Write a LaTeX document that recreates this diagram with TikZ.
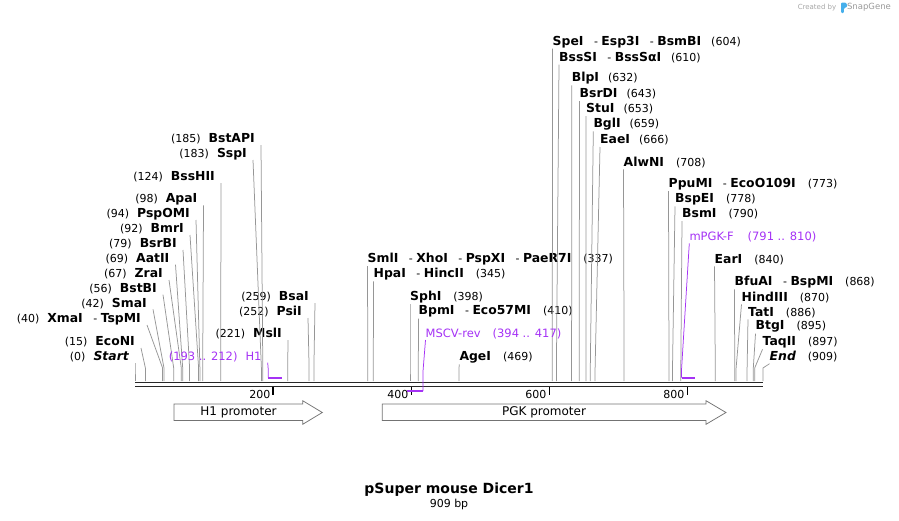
\documentclass[tikz,border=0pt]{standalone}
\usepackage{fontspec}
\setmainfont{DejaVu Sans}
\definecolor{primer}{RGB}{165,50,245}
\definecolor{cutgrey}{RGB}{150,150,150}
\definecolor{dnablack}{RGB}{40,40,40}
\definecolor{snapblue}{RGB}{70,175,235}
\newcommand\enz[1]{{\fontsize{12.4}{13}\selectfont\bfseries #1}}

\begin{document}
\begin{tikzpicture}[x=1pt,y=-1pt,
		lbl/.style={inner sep=0pt,font=\fontsize{11}{13}\selectfont},
		feat/.style={inner sep=0pt,font=\fontsize{12}{14}\selectfont},
		oligo/.style={inner sep=0pt,font=\fontsize{11.5}{14}\selectfont,text=primer},
		cut/.style={draw=cutgrey,line width=0.75pt},
		bind/.style={draw=primer,line width=0.75pt},
		bar/.style={draw=primer,line width=2pt},
		strand/.style={draw=dnablack,line width=1.8pt},
		tick/.style={draw=black,line width=1.5pt},
		promoter/.style={draw=black!55,fill=white,line width=0.75pt}]
		\useasboundingbox (0,0) rectangle (899,520);
		% logo
		\node[inner sep=0pt,font=\fontsize{7}{8}\selectfont,text=black!35] (made) at (817,7.5) {Created by};
		\node[inner sep=0pt,font=\fontsize{8.5}{9}\selectfont,text=black!40] (brand) at (869,7.5) {SnapGene};
		\fill[snapblue,rounded corners=1pt] (841,2.5) -- (846,2.5) -- (847.5,6.5) -- (843.8,8.5) -- (843.8,13) -- (841,13) -- cycle;
		% backbone
		\draw[strand] (135,382.4) -- (763,382.4);
		\draw[strand] (135,386.4) -- (763,386.4);
		\draw[tick] (273.2,387) -- (273.2,394.5);
		\draw[tick] (411.3,387) -- (411.3,394.5);
		\draw[tick] (549.5,387) -- (549.5,394.5);
		\draw[tick] (687.7,387) -- (687.7,394.5);
		\node[lbl,anchor=east] (t200) at (270.5,394.5) {200};
		\node[lbl,anchor=east] (t400) at (408.5,394.5) {400};
		\node[lbl,anchor=east] (t600) at (546.5,394.5) {600};
		\node[lbl,anchor=east] (t800) at (684.5,394.5) {800};
		% sites left of the label
		\node[lbl,anchor=east] (start) at (129,357) {(0)\hspace{8pt}\enz{\itshape Start}};
		\node[lbl,anchor=east] (econi) at (135,342) {(15)\hspace{8pt}\enz{EcoNI}};
		\node[lbl,anchor=east] (xmai) at (141,319) {(40)\hspace{8pt}\enz{XmaI}~~ - \enz{TspMI}};
		\node[lbl,anchor=east] (smai) at (147,303.3) {(42)\hspace{8pt}\enz{SmaI}};
		\node[lbl,anchor=east] (bstbi) at (157,288.7) {(56)\hspace{8pt}\enz{BstBI}};
		\node[lbl,anchor=east] (zrai) at (163,274) {(67)\hspace{8pt}\enz{ZraI}};
		\node[lbl,anchor=east] (aatii) at (169.5,258.7) {(69)\hspace{8pt}\enz{AatII}};
		\node[lbl,anchor=east] (bsrbi) at (177,244) {(79)\hspace{8pt}\enz{BsrBI}};
		\node[lbl,anchor=east] (bmri) at (184,229) {(92)\hspace{8pt}\enz{BmrI}};
		\node[lbl,anchor=east] (pspomi) at (190,214) {(94)\hspace{8pt}\enz{PspOMI}};
		\node[lbl,anchor=east] (apai) at (197.5,199.3) {(98)\hspace{8pt}\enz{ApaI}};
		\node[lbl,anchor=east] (bsshii) at (215,177) {(124)\hspace{8pt}\enz{BssHII}};
		\node[lbl,anchor=east] (sspi) at (247,154) {(183)\hspace{8pt}\enz{SspI}};
		\node[lbl,anchor=east] (bstapi) at (255,139) {(185)\hspace{8pt}\enz{BstAPI}};
		\node[lbl,anchor=east] (msli) at (282,334) {(221)\hspace{8pt}\enz{MslI}};
		\node[lbl,anchor=east] (psii) at (302,312) {(252)\hspace{8pt}\enz{PsiI}};
		\node[lbl,anchor=east] (bsai) at (309,297) {(259)\hspace{8pt}\enz{BsaI}};
		\draw[cut] ([shift={(6,6)}]start.east) -- (135,368) -- (135,381);
		\draw[cut] ([shift={(6,6)}]econi.east) -- (145.4,368) -- (145.4,381);
		\draw[cut] ([shift={(6,6)}]xmai.east) -- (162.6,368) -- (162.6,381);
		\draw[cut] ([shift={(6,6)}]smai.east) -- (164,368) -- (164,381);
		\draw[cut] ([shift={(6,6)}]bstbi.east) -- (173.7,368) -- (173.7,381);
		\draw[cut] ([shift={(6,6)}]zrai.east) -- (181.3,368) -- (181.3,381);
		\draw[cut] ([shift={(6,6)}]aatii.east) -- (182.7,368) -- (182.7,381);
		\draw[cut] ([shift={(6,6)}]bsrbi.east) -- (189.6,368) -- (189.6,381);
		\draw[cut] ([shift={(6,6)}]bmri.east) -- (198.6,368) -- (198.6,381);
		\draw[cut] ([shift={(6,6)}]pspomi.east) -- (199.9,368) -- (199.9,381);
		\draw[cut] ([shift={(6,6)}]apai.east) -- (202.7,368) -- (202.7,381);
		\draw[cut] ([shift={(6,6)}]bsshii.east) -- (220.7,368) -- (220.7,381);
		\draw[cut] ([shift={(6,6)}]sspi.east) -- (261.4,368) -- (261.4,381);
		\draw[cut] ([shift={(6,6)}]bstapi.east) -- (262.8,368) -- (262.8,381);
		\draw[cut] ([shift={(6,6)}]msli.east) -- (287.7,368) -- (287.7,381);
		\draw[cut] ([shift={(6,6)}]psii.east) -- (309.1,368) -- (309.1,381);
		\draw[cut] ([shift={(6,6)}]bsai.east) -- (313.9,368) -- (313.9,381);
		% sites right of the label
		\node[lbl,anchor=west] (smli) at (367.5,259) {\enz{SmlI}~~ - \enz{XhoI}~~ - \enz{PspXI}~~ - \enz{PaeR7I}\hspace{12pt}(337)};
		\node[lbl,anchor=west] (hpai) at (373.5,274.3) {\enz{HpaI}~~ - \enz{HincII}\hspace{12pt}(345)};
		\node[lbl,anchor=west] (sphi) at (410,297.3) {\enz{SphI}\hspace{12pt}(398)};
		\node[lbl,anchor=west] (bpmi) at (418.5,311.7) {\enz{BpmI}~~ - \enz{Eco57MI}\hspace{12pt}(410)};
		\node[lbl,anchor=west] (agei) at (459.3,357.3) {\enz{AgeI}\hspace{12pt}(469)};
		\node[lbl,anchor=west] (spei) at (552.5,41.7) {\enz{SpeI}~~ - \enz{Esp3I}~~ - \enz{BsmBI}\hspace{10pt}(604)};
		\node[lbl,anchor=west] (bsssi) at (559,57.7) {\enz{BssSI}~~ - \enz{BssSαI}\hspace{10pt}(610)};
		\node[lbl,anchor=west] (blpi) at (571.7,78.3) {\enz{BlpI}\hspace{9pt}(632)};
		\node[lbl,anchor=west] (bsrdi) at (579.5,94) {\enz{BsrDI}\hspace{9pt}(643)};
		\node[lbl,anchor=west] (stui) at (586,109) {\enz{StuI}\hspace{9pt}(653)};
		\node[lbl,anchor=west] (bgli) at (593.3,124.3) {\enz{BglI}\hspace{9pt}(659)};
		\node[lbl,anchor=west] (eaei) at (600,140) {\enz{EaeI}\hspace{9pt}(666)};
		\node[lbl,anchor=west] (alwni) at (623.5,162.3) {\enz{AlwNI}\hspace{12pt}(708)};
		\node[lbl,anchor=west] (ppumi) at (668.5,184) {\enz{PpuMI}~~ - \enz{EcoO109I}\hspace{12pt}(773)};
		\node[lbl,anchor=west] (bspei) at (675,199.3) {\enz{BspEI}\hspace{12pt}(778)};
		\node[lbl,anchor=west] (bsmi) at (682,214) {\enz{BsmI}\hspace{12pt}(790)};
		\node[lbl,anchor=west] (eari) at (714.5,259.3) {\enz{EarI}\hspace{12pt}(840)};
		\node[lbl,anchor=west] (bfuai) at (734.5,282.3) {\enz{BfuAI}~~ - \enz{BspMI}\hspace{12pt}(868)};
		\node[lbl,anchor=west] (hindiii) at (741.5,297.3) {\enz{HindIII}\hspace{12pt}(870)};
		\node[lbl,anchor=west] (tati) at (748,312.3) {\enz{TatI}\hspace{12pt}(886)};
		\node[lbl,anchor=west] (btgi) at (755.5,326.7) {\enz{BtgI}\hspace{12pt}(895)};
		\node[lbl,anchor=west] (taqii) at (762.5,342.3) {\enz{TaqII}\hspace{12pt}(897)};
		\node[lbl,anchor=west] (end) at (769.5,356.7) {\enz{\itshape End}\hspace{12pt}(909)};
		\draw[cut] ([shift={(0,7)}]smli.west) -- (367.8,368) -- (367.8,381);
		\draw[cut] ([shift={(0,7)}]hpai.west) -- (373.3,368) -- (373.3,381);
		\draw[cut] ([shift={(0,7)}]sphi.west) -- (410,368) -- (410,381);
		\draw[cut] ([shift={(0,7)}]bpmi.west) -- (418.3,368) -- (418.3,381);
		\draw[cut] ([shift={(0,7)}]agei.west) -- (459,368) -- (459,381);
		\draw[cut] ([shift={(0,7)}]spei.west) -- (552.3,368) -- (552.3,381);
		\draw[cut] ([shift={(0,7)}]bsssi.west) -- (556.4,368) -- (556.4,381);
		\draw[cut] ([shift={(0,7)}]blpi.west) -- (571.6,368) -- (571.6,381);
		\draw[cut] ([shift={(0,7)}]bsrdi.west) -- (579.2,368) -- (579.2,381);
		\draw[cut] ([shift={(0,7)}]stui.west) -- (586.1,368) -- (586.1,381);
		\draw[cut] ([shift={(0,7)}]bgli.west) -- (590.3,368) -- (590.3,381);
		\draw[cut] ([shift={(0,7)}]eaei.west) -- (595.1,368) -- (595.1,381);
		\draw[cut] ([shift={(0,7)}]alwni.west) -- (624.1,368) -- (624.1,381);
		\draw[cut] ([shift={(0,7)}]ppumi.west) -- (669,368) -- (669,381);
		\draw[cut] ([shift={(0,7)}]bspei.west) -- (672.5,368) -- (672.5,381);
		\draw[cut] ([shift={(0,7)}]bsmi.west) -- (680.8,368) -- (680.8,381);
		\draw[cut] ([shift={(0,7)}]eari.west) -- (715.3,368) -- (715.3,381);
		\draw[cut] ([shift={(0,7)}]bfuai.west) -- (734.7,368) -- (734.7,381);
		\draw[cut] ([shift={(0,7)}]hindiii.west) -- (736.1,368) -- (736.1,381);
		\draw[cut] ([shift={(0,7)}]tati.west) -- (747.1,368) -- (747.1,381);
		\draw[cut] ([shift={(0,7)}]btgi.west) -- (753.3,368) -- (753.3,381);
		\draw[cut] ([shift={(0,7)}]taqii.west) -- (754.7,368) -- (754.7,381);
		\draw[cut] ([shift={(0,7)}]end.west) -- (763,368) -- (763,381);
		% primers
		\node[oligo,anchor=east] (h1) at (261.7,356.7) {(193 .. 212)\hspace{8pt}H1};
		\node[oligo,anchor=west] (mscv) at (425.5,334) {MSCV-rev\hspace{12pt}(394 .. 417)};
		\node[oligo,anchor=west] (mpgk) at (689.3,237.3) {mPGK-F\hspace{14pt}(791 .. 810)};
		\draw[bind] ([shift={(6,6)}]h1.east) -- (268.3,370) -- (268.3,377.5);
		\draw[bar] (268.3,377.5) -- (281.5,377.5);
		\draw[bind] ([shift={(0,6)}]mscv.west) -- (423.1,370) -- (423.1,391);
		\draw[bar] (407.2,391) -- (423.1,391);
		\draw[bind] ([shift={(0,6)}]mpgk.west) -- (681.5,370) -- (681.5,377.5);
		\draw[bar] (681.5,377.5) -- (694.6,377.5);
		% promoters
		\draw[promoter] (174,404) -- (302.7,404) -- (302.7,400.7) -- (322.3,412.5) -- (302.7,424.3) -- (302.7,420.5) -- (174,420.5) -- cycle;
		\draw[promoter] (382.3,404) -- (706,404) -- (706,400.7) -- (726,412.5) -- (706,424.3) -- (706,420.5) -- (382.3,420.5) -- cycle;
		\node[feat] (h1prom) at (238.5,412) {H1 promoter};
		\node[feat] (pgkprom) at (544,412) {PGK promoter};
		% title
		\node[inner sep=0pt,font=\fontsize{14}{16}\selectfont\bfseries] (title) at (449,490) {pSuper mouse Dicer1};
		\node[inner sep=0pt,font=\fontsize{11}{13}\selectfont] (length) at (449,504.5) {909 bp};
\end{tikzpicture}
\end{document}
